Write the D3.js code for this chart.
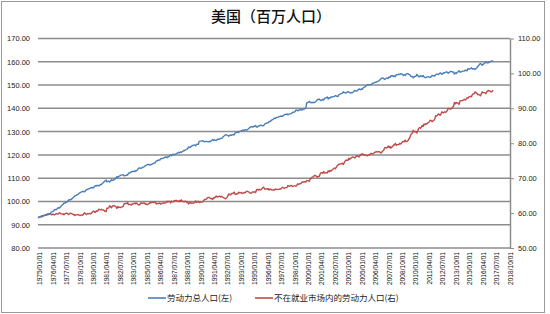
<!DOCTYPE html>
<html><head><meta charset="utf-8">
<script src="https://cdn.jsdelivr.net/npm/d3@7"></script>
<style>
body{margin:0;background:#fff;}
svg{display:block;font-family:"Liberation Sans",Arial,sans-serif;}
</style></head>
<body><svg id="c" width="550" height="314"></svg>
<script>
const title = "美国（百万人口）";
const seriesNames = ["劳动力总人口(左)", "不在就业市场内的劳动力人口(右)"];
const categoryCount = 528; // monthly, 1975/01 .. 2018/12
const tickLabels = ["1975/01/01","1976/04/01","1977/07/01","1978/10/01","1980/01/01","1981/04/01","1982/07/01","1983/10/01","1985/01/01","1986/04/01","1987/07/01","1988/10/01","1990/01/01","1991/04/01","1992/07/01","1993/10/01","1995/01/01","1996/04/01","1997/07/01","1998/10/01","2000/01/01","2001/04/01","2002/07/01","2003/10/01","2005/01/01","2006/04/01","2007/07/01","2008/10/01","2010/01/01","2011/04/01","2012/07/01","2013/10/01","2015/01/01","2016/04/01","2017/07/01","2018/10/01"];
const leftTicks = [80,90,100,110,120,130,140,150,160,170];
const rightTicks = [50,60,70,80,90,100,110];

const laborForce = [
93.1,93.2,93.4,93.5,93.8,93.5,93.9,94.1,94.2,94.2,94.2,94.3,
94.7,94.7,94.9,95.5,95.6,95.8,96.3,96.6,96.4,96.7,97.1,97.3,
97.2,97.6,98.0,98.5,98.7,99.3,99.3,99.5,99.6,100.0,100.6,100.8,
100.6,100.9,101.2,101.6,101.9,102.4,102.4,102.7,103.0,103.1,103.5,103.8,
104.0,104.1,104.4,104.2,104.1,104.6,105.1,105.1,105.3,105.5,105.6,105.9,
106.0,105.9,105.9,106.4,106.8,106.6,106.9,106.9,106.7,107.0,107.3,107.3,
107.9,108.1,108.5,108.9,109.2,108.4,108.6,108.7,108.3,108.8,109.3,109.0,
109.2,109.4,109.6,110.0,110.7,110.3,110.8,110.9,111.2,111.3,111.4,111.5,
111.0,111.1,111.1,111.4,111.3,112.1,112.2,112.4,112.8,112.7,112.9,113.0,
112.8,113.2,113.2,113.6,114.1,114.4,114.3,114.2,114.5,114.6,114.8,115.0,
115.4,115.5,115.9,115.8,115.9,115.6,115.9,115.9,116.1,116.4,116.5,116.6,
117.4,117.4,117.7,117.8,117.8,118.4,118.5,118.4,118.6,118.8,119.0,119.1,
118.8,119.2,119.2,119.5,120.0,119.6,120.1,120.3,120.0,120.3,120.4,120.6,
120.9,121.1,120.9,121.3,121.0,121.5,121.6,122.0,121.9,122.1,122.5,122.6,
123.4,123.3,123.2,123.7,123.8,124.1,124.2,124.3,123.9,124.5,124.6,124.5,
125.8,125.9,125.9,126.0,126.1,125.8,125.6,125.8,125.8,125.7,125.6,125.8,
125.6,126.0,126.1,126.6,126.2,126.5,126.3,126.2,126.6,126.7,126.7,126.9,
127.1,127.1,127.5,127.9,128.2,128.6,128.7,128.5,128.4,128.0,128.3,128.6,
128.4,128.6,128.7,128.6,129.4,129.6,129.7,129.9,129.6,130.0,130.2,130.3,
130.6,130.6,130.5,130.8,130.8,130.6,130.9,131.2,131.6,131.9,132.1,132.1,
132.0,132.2,132.3,132.6,132.0,132.0,132.4,132.4,132.7,132.8,132.6,132.5,
132.6,133.2,133.4,133.6,133.8,133.8,134.4,134.3,134.6,135.0,135.2,135.4,
135.8,135.7,136.0,136.1,136.2,136.4,136.5,136.7,136.6,136.6,137.0,137.2,
137.4,137.4,137.6,137.2,137.5,137.6,137.6,137.7,138.2,138.3,138.4,138.6,
139.3,139.2,138.9,139.3,139.3,139.4,139.4,139.3,139.5,139.7,139.8,140.1,
142.3,142.5,142.7,143.0,142.4,142.6,142.4,142.6,142.5,142.5,142.8,143.2,
143.8,143.8,144.0,143.5,143.3,143.5,143.9,143.6,144.3,144.5,144.6,144.9,
144.0,144.6,144.4,144.9,144.9,144.9,145.0,145.1,145.5,145.3,145.2,145.1,
145.9,146.1,146.2,146.4,146.5,147.1,146.9,146.6,146.6,146.9,147.2,146.9,
146.8,146.6,146.8,146.7,147.0,147.4,147.7,147.5,147.4,147.8,148.2,148.3,
148.0,148.3,148.2,148.7,149.1,149.2,149.6,149.8,150.1,150.1,150.2,150.2,
150.2,150.6,150.8,150.9,151.1,151.2,151.3,151.6,151.7,151.9,152.4,152.7,
153.0,152.9,152.9,152.4,152.6,153.0,153.0,152.8,153.5,153.3,154.0,153.9,
154.0,153.7,153.9,153.6,154.4,154.4,154.5,154.7,154.5,154.9,154.8,154.6,
154.1,154.4,154.1,154.7,154.9,154.9,154.6,154.5,153.9,153.6,153.7,153.1,
153.5,153.7,153.8,154.6,154.1,153.6,153.6,154.0,153.9,153.6,154.1,153.6,
153.2,153.2,153.4,153.4,153.6,153.4,153.3,153.6,154.1,154.0,154.0,153.9,
154.4,154.7,154.7,154.5,154.9,155.2,155.0,154.6,155.0,155.3,155.2,155.5,
155.7,155.5,155.1,155.4,155.7,155.9,155.8,155.6,155.6,154.7,155.2,155.0,
155.4,155.7,156.2,155.6,155.6,155.8,156.0,156.0,156.0,156.4,156.4,156.1,
157.0,156.9,156.9,157.1,157.4,156.9,157.0,157.0,156.7,157.1,157.4,158.0,
158.4,158.9,159.3,158.9,158.5,158.9,159.2,159.5,159.9,159.6,159.5,159.6,
159.8,160.1,160.3,160.2,160.5
];

const notInLaborForce = [
58.6,58.8,58.9,59.0,58.9,59.3,59.2,59.3,59.3,59.5,59.7,59.8,
59.6,59.8,59.8,59.5,59.6,59.7,59.5,59.6,59.8,59.8,59.7,59.9,
60.1,59.9,59.8,59.7,59.8,59.5,59.8,59.9,60.0,59.9,59.6,59.7,
60.0,59.9,59.8,59.6,59.6,59.3,59.5,59.5,59.5,59.6,59.4,59.3,
59.4,59.5,59.4,59.8,60.1,59.8,59.6,59.8,59.8,59.8,59.9,59.8,
60.1,60.4,60.6,60.3,60.2,60.6,60.5,60.7,61.1,61.0,60.9,61.1,
60.9,60.9,60.7,60.5,60.4,61.4,61.4,61.5,62.1,61.8,61.5,62.0,
62.1,62.1,62.0,61.8,61.3,61.9,61.6,61.7,61.6,61.7,61.8,61.9,
62.6,62.7,62.8,62.7,63.0,62.4,62.5,62.5,62.3,62.6,62.6,62.7,
62.9,62.7,62.9,62.6,62.4,62.3,62.6,62.9,62.8,62.8,62.9,62.9,
62.5,62.6,62.4,62.6,62.7,63.1,62.9,63.1,63.1,63.0,63.1,63.2,
62.6,62.8,62.7,62.8,62.9,62.6,62.7,62.9,62.9,62.9,62.9,63.0,
63.4,63.2,63.4,63.3,62.9,63.5,63.2,63.2,63.6,63.5,63.6,63.6,
63.4,63.3,63.6,63.3,63.8,63.4,63.4,63.2,63.4,63.4,63.1,63.2,
62.6,62.9,63.1,62.8,62.9,62.8,62.9,63.0,63.5,63.1,63.2,63.4,
63.0,63.1,63.2,63.2,63.2,63.6,63.9,63.9,64.0,64.3,64.5,64.5,
64.3,64.1,64.2,63.9,64.4,64.3,64.6,64.9,64.6,64.6,64.8,64.8,
64.6,64.8,64.6,64.4,64.3,64.1,64.2,64.5,64.9,65.5,65.3,65.2,
65.6,65.6,65.7,66.0,65.4,65.4,65.5,65.5,66.0,65.8,65.8,65.9,
65.6,65.7,65.9,65.8,66.0,66.3,66.2,66.1,65.9,65.7,65.7,65.9,
66.1,66.0,66.1,65.9,66.7,66.8,66.6,66.8,66.6,66.7,67.0,67.3,
67.4,66.9,66.9,66.9,66.9,67.0,66.6,66.9,66.8,66.6,66.6,66.6,
66.6,66.9,66.8,66.8,66.8,66.8,66.9,66.9,67.2,67.4,67.2,67.1,
67.2,67.3,67.3,67.9,67.7,67.7,67.9,67.9,67.6,67.7,67.8,67.8,
67.7,68.0,68.4,68.2,68.4,68.4,68.6,68.9,68.9,68.9,69.0,68.9,
69.3,69.3,69.2,69.1,69.9,69.9,70.3,70.3,70.6,70.8,70.7,70.5,
70.3,70.5,70.5,71.2,71.6,71.6,71.4,71.9,71.5,71.5,71.6,71.5,
72.1,71.8,72.2,72.0,72.3,72.5,72.7,72.9,72.7,73.1,73.5,73.8,
74.0,74.0,74.1,74.1,74.3,73.9,74.4,74.9,75.2,75.1,75.1,75.7,
75.4,75.7,75.8,76.1,76.0,75.9,75.8,76.2,76.5,76.3,76.1,76.2,
76.8,76.7,77.0,76.8,76.6,76.7,76.5,76.5,76.4,76.6,76.7,76.9,
77.1,77.0,77.0,77.2,77.4,77.5,77.6,77.5,77.6,77.6,77.4,77.2,
77.5,77.8,78.0,78.7,78.8,78.6,78.8,79.2,78.7,79.1,78.6,78.9,
79.1,79.5,79.5,80.0,79.4,79.6,79.6,79.6,80.0,79.8,80.1,80.5,
80.5,80.4,80.9,80.5,80.5,80.7,81.2,81.5,82.3,82.8,82.9,83.7,
83.3,83.3,83.4,82.9,83.6,84.2,84.5,84.3,84.6,85.1,84.8,85.5,
85.3,85.6,85.5,85.8,85.9,86.2,86.6,86.5,86.2,86.4,86.6,86.9,
87.9,87.8,88.0,88.4,88.2,88.0,88.4,89.0,88.8,88.7,89.0,88.9,
89.0,89.4,90.0,89.9,89.8,89.8,90.0,90.4,90.6,91.7,91.3,91.7,
91.5,91.5,91.1,92.0,92.2,92.2,92.2,92.4,92.6,92.4,92.6,93.0,
92.9,93.2,93.4,93.4,93.3,94.0,94.1,94.2,94.7,94.5,94.3,93.9,
94.0,93.8,93.6,94.2,94.7,94.5,94.5,94.4,94.2,94.7,95.0,95.1,
95.0,94.9,94.7,94.8,95.2
];

const colors = ["#4A7EBB", "#BE4B48"];

const svg = d3.select("#c");
// outer frame
svg.append("rect").attr("x",1.5).attr("y",1.5).attr("width",543).attr("height",311)
  .attr("fill","#fff").attr("stroke","#9a9a9a").attr("stroke-width",1);

const x = d3.scalePoint().domain(d3.range(categoryCount)).range([38, 510]);
const yL = d3.scaleLinear().domain([80,170]).range([248,38.5]);
const yR = d3.scaleLinear().domain([50,110]).range([248,38.5]);

// gridlines
svg.append("g").selectAll("line").data(leftTicks).join("line")
  .attr("x1",38).attr("x2",510)
  .attr("y1",d=>yL(d)).attr("y2",d=>yL(d))
  .attr("stroke","#8c8c8c").attr("stroke-width",1.5);

// left axis
const gL = svg.append("g").attr("transform","translate(30,0)")
  .call(d3.axisLeft(yL).tickValues(leftTicks).tickFormat(d3.format(".2f")).tickSize(0).tickPadding(0));
gL.select(".domain").remove();
gL.selectAll("text").attr("font-size",7.5).attr("fill","#222");

// right axis
const gR = svg.append("g").attr("transform","translate(510,0)")
  .call(d3.axisRight(yR).tickValues(rightTicks).tickFormat(d3.format(".2f")).tickSize(4).tickSizeOuter(0).tickPadding(4));
gR.select(".domain").attr("stroke","#8c8c8c").attr("stroke-width",1.5);
gR.selectAll(".tick line").attr("stroke","#8c8c8c").attr("stroke-width",1);
gR.selectAll("text").attr("font-size",7.5).attr("fill","#222");

// x labels
svg.append("g").selectAll("text").data(tickLabels).join("text")
  .attr("transform",(d,i)=>`translate(${x(i*15)+2},252) rotate(-90)`)
  .attr("text-anchor","end").attr("dy","0.35em")
  .attr("font-size",6.6).attr("fill","#111").text(d=>d);

// lines
const lineL = d3.line().x((d,i)=>x(i)).y(d=>yL(d));
const lineR = d3.line().x((d,i)=>x(i)).y(d=>yR(d));
svg.append("path").datum(notInLaborForce).attr("d",lineR)
  .attr("fill","none").attr("stroke",colors[1]).attr("stroke-width",1.4).attr("stroke-linejoin","round");
svg.append("path").datum(laborForce).attr("d",lineL)
  .attr("fill","none").attr("stroke",colors[0]).attr("stroke-width",1.4).attr("stroke-linejoin","round");

// title
svg.append("text").attr("x",271).attr("y",22).attr("text-anchor","middle")
  .attr("font-family","'Noto Sans CJK SC',sans-serif").attr("font-size",15).attr("font-weight",500).attr("fill","#111")
  .text(title);

// legend
const legX = [148, 255];
const lg = svg.append("g").selectAll("g").data(seriesNames).join("g")
  .attr("transform",(d,i)=>`translate(${legX[i]},298)`);
lg.append("line").attr("x1",0).attr("x2",18).attr("y1",0).attr("y2",0)
  .attr("stroke",(d,i)=>colors[i]).attr("stroke-width",1.6);
lg.append("text").attr("x",19).attr("dy","0.35em")
  .attr("font-family","'Noto Sans CJK SC',sans-serif").attr("font-size",8.5).attr("fill","#222")
  .text(d=>d);
</script></body></html>
